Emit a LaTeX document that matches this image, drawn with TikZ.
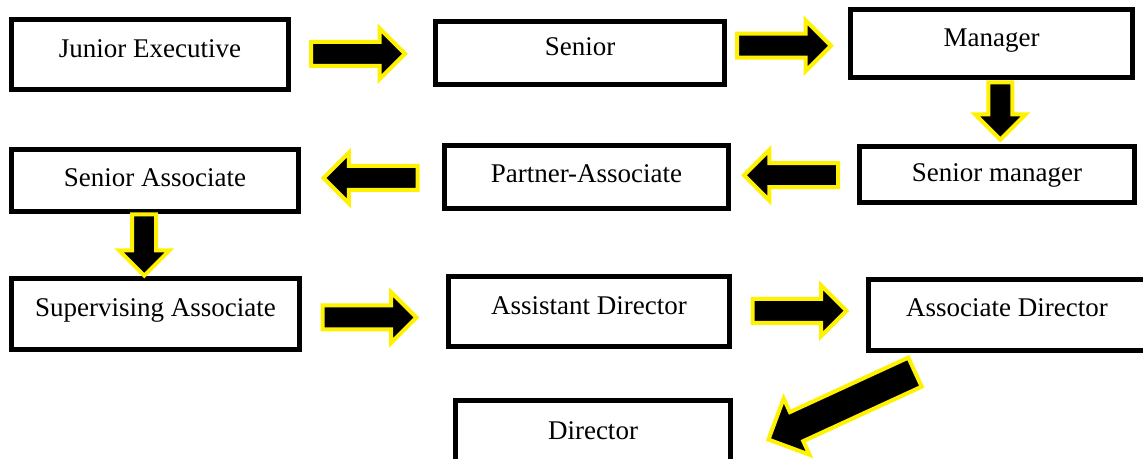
\documentclass[tikz,border=0pt]{standalone}
\usepackage{fontspec}
\setmainfont{Liberation Serif}
\usetikzlibrary{shapes.arrows}
\begin{document}
\begin{tikzpicture}[
x=0.75pt,
y=-0.75pt,
post/.style 2 args={%
draw,
line width=3.75pt,
minimum width=#1,
minimum height=#2,
text height=14pt,
text depth=9.5pt,
font=\fontsize{20.25}{24}\selectfont,
},
arw/.style={%
single arrow,
draw=yellow,
fill=black,
line width=3pt,
inner xsep=0pt,
inner ysep=7.5pt,
single arrow head extend=10pt,
minimum height=70.5pt,
},
]
\useasboundingbox(0,0)rectangle(1143,459);
%% First row
\node[post={207.75pt}{52.5pt}]at(150,54.5)(junior){Junior Executive};
\node[post={216.75pt}{47.25pt}]at(580,53)(senior){Senior};
\node[post={211.5pt}{51pt}]at(991.5,43.5)(manager){Manager};
%% Second row
\node[post={215.25pt}{46.5pt},text depth=5pt]at(155,180.5)(srassoc){Senior Associate};
\node[post={213pt}{47.25pt},text depth=5pt]at(586.5,177)(partner){Partner-Associate};
\node[post={206.25pt}{42pt},text depth=3pt]at(997,174.5)(srmanager){Senior manager};
%% Third row
\node[post={216pt}{53.25pt}]at(155.5,314)(supassoc){Supervising Associate};
\node[post={210.75pt}{52.5pt}]at(589,311.5)(asstdir){Assistant Director};
\node[post={207.75pt}{53.25pt},text depth=12pt]at(1007,315)(assocdir){Associate Director};
%% Last step
\node[post={206.25pt}{50.25pt},text depth=5pt]at(593,434)(director){Director};
%% Arrows between the posts
\foreach \a/\b/\r/\l/\dx/\dy in {junior/senior/0/70.5pt/-10/0,senior/manager/0/70.5pt/-9.5/-2.5,
manager/srmanager/270/43pt/6/-7,srmanager/partner/180/70.5pt/3/-0.5,partner/srassoc/180/70.5pt/5/-0.75,
srassoc/supassoc/270/46pt/-11/-6,supassoc/asstdir/0/70.5pt/-10.5/4.75,asstdir/assocdir/0/70.5pt/-5.5/-2.5}{%
\path(\a)--(\b)node[midway,arw,shift={(\dx,\dy)},rotate=\r,minimum height=\l]{};
}
\path([shift={(58,15)}]assocdir.south west)--([shift={(41,39)}]director.north east)
node[midway,arw,sloped,allow upside down,inner ysep=10.5pt,single arrow head extend=11.25pt,minimum height=121pt]{};
\end{tikzpicture}
\end{document}
